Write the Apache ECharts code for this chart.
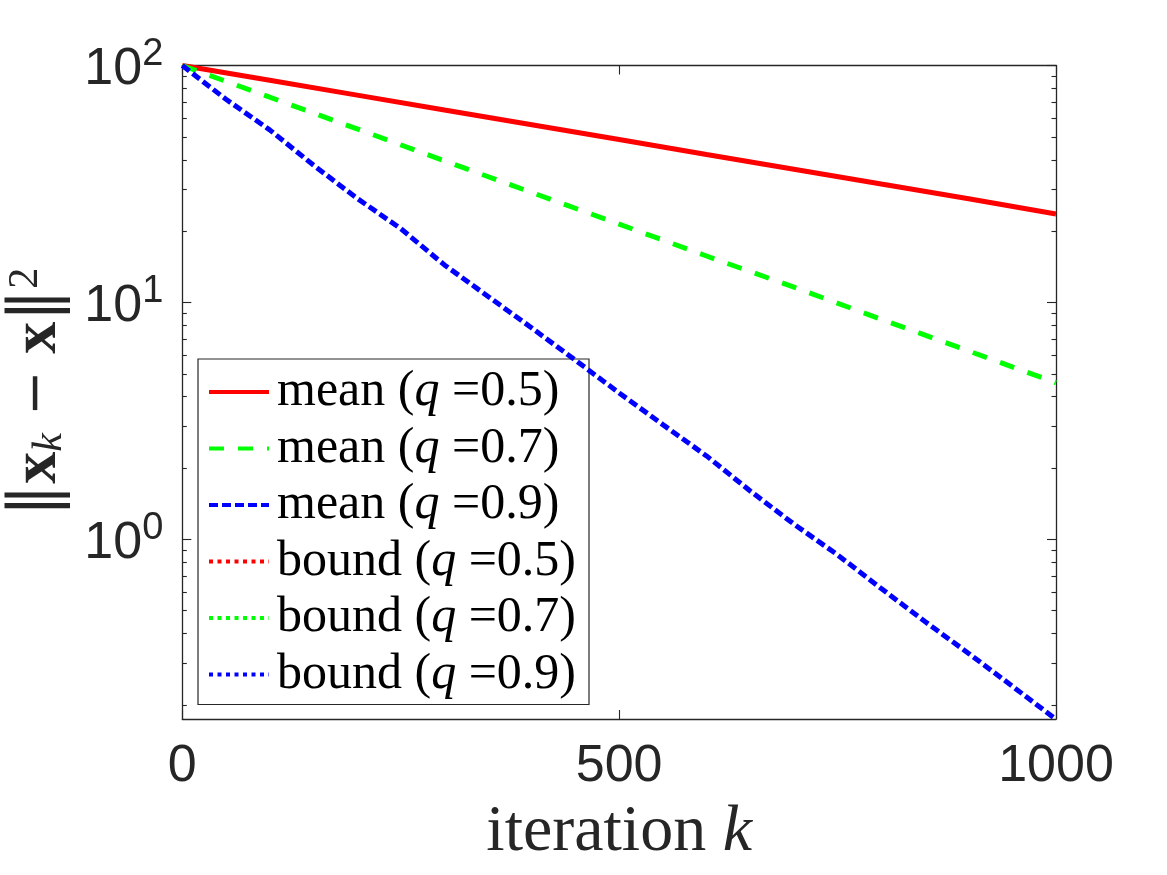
<!DOCTYPE html>
<html><head><meta charset="utf-8">
<script src="https://cdn.jsdelivr.net/npm/echarts@6/dist/echarts.min.js"></script>
<style>html,body{margin:0;padding:0;background:#fff}#c{width:1167px;height:875px}</style>
</head><body><div id="c"></div>
<script>
// ---- data ----
const iterK = [0, 100, 200, 300, 400, 500, 600, 700, 800, 900, 1000];
const meanQ05 = [100, 86.6, 75.0, 64.9, 56.2, 48.7, 42.1, 36.5, 31.6, 27.4, 23.6];
const meanQ07 = [100, 73.5, 54.0, 39.6, 29.1, 21.4, 15.7, 11.6, 8.49, 6.24, 4.58];
const iterKBlue = [0, 50, 100, 150, 200, 250, 300, 350, 400, 450, 500, 550, 600, 650, 700, 750, 800, 850, 900, 950, 1000];
const meanQ09 = [100, 72, 53.5, 38, 27.5, 20.5, 14.4, 10.6, 7.8, 5.7, 4.15, 3.05, 2.25, 1.6, 1.16, 0.86, 0.62, 0.45, 0.33, 0.24, 0.174];
const boundQ05 = [];
const boundQ07 = [];
const boundQ09 = [];
const seriesNames = ['mean (q =0.5)', 'mean (q =0.7)', 'mean (q =0.9)', 'bound (q =0.5)', 'bound (q =0.7)', 'bound (q =0.9)'];
const xTicks = [0, 500, 1000];
const yMajorTicks = [1, 10, 100];
const yMinorTicks = [0.2, 0.3, 0.4, 0.5, 0.6, 0.7, 0.8, 0.9, 2, 3, 4, 5, 6, 7, 8, 9, 20, 30, 40, 50, 60, 70, 80, 90];
const yMin = 0.1745, yMax = 100;
const xMin = 0, xMax = 1000;

const pairs = (xs, ys) => xs.map((x, i) => [x, ys[i]]);
const INK = '#262626';
const serif = "'Liberation Serif', 'DejaVu Serif', serif";
const sans = "'Liberation Sans', Arial, sans-serif";

const chart = echarts.init(document.getElementById('c'), null, {renderer: 'canvas'});

function yAxisDef(pos, customTicks, len, showLabel, extra) {
  return Object.assign({
    type: 'log', logBase: 10, min: yMin, max: yMax, position: pos,
    axisLine: {show: true, lineStyle: {color: INK, width: 1.3}},
    axisTick: {show: true, inside: true, length: len, customValues: customTicks, lineStyle: {color: INK, width: 1.1}},
    axisLabel: {show: showLabel},
    splitLine: {show: false}, minorTick: {show: false}
  }, extra || {});
}

const LW = 5;
const option = {
  animation: false,
  backgroundColor: '#fff',
  grid: {left: 182.3, right: 111, top: 65.5, bottom: 156, containLabel: false, outerBoundsMode: 'none'},
  legend: {
    orient: 'vertical', left: 198, top: 359,
    padding: [8, 13, 5, 9],
    itemWidth: 60, itemHeight: 14, itemGap: 6.5,
    icon: 'inherit',
    itemStyle: {opacity: 0, borderWidth: 0},
    lineStyle: {width: 4},
    backgroundColor: '#fff', borderColor: INK, borderWidth: 1.2,
    data: seriesNames,
    formatter: function (name) {
      const p = name.split('q');
      return '{n|' + p[0] + '}{i|q}{n|' + p[1] + '}';
    },
    textStyle: {
      color: '#000', padding: [0, 0, 0, 3], width: 299,
      rich: {
        n: {fontFamily: serif, fontSize: 50, lineHeight: 50, color: '#000'},
        i: {fontFamily: serif, fontSize: 50, lineHeight: 50, fontStyle: 'italic', color: '#000'}
      }
    }
  },
  xAxis: [{
    type: 'value', min: xMin, max: xMax, interval: 500, position: 'bottom',
    axisLine: {show: true, onZero: false, lineStyle: {color: INK, width: 1.3}},
    axisTick: {show: true, inside: true, length: 9, customValues: xTicks, lineStyle: {color: INK, width: 1.1}},
    axisLabel: {show: true, customValues: xTicks, fontSize: 52, fontFamily: sans, color: INK, margin: 22,
      formatter: function (v) { return String(v); }},
    splitLine: {show: false},
    name: '{n|iteration }{i|k}', nameLocation: 'middle', nameGap: 81,
    nameTextStyle: {
      rich: {
        n: {fontFamily: serif, fontSize: 66, color: INK},
        i: {fontFamily: serif, fontSize: 66, fontStyle: 'italic', color: INK}
      }
    }
  }, {
    type: 'value', min: xMin, max: xMax, interval: 500, position: 'top',
    axisLine: {show: true, onZero: false, lineStyle: {color: INK, width: 1.3}},
    axisTick: {show: true, inside: true, length: 9, customValues: xTicks, lineStyle: {color: INK, width: 1.1}},
    axisLabel: {show: false}, splitLine: {show: false}
  }],
  yAxis: [
    yAxisDef('left', yMajorTicks, 9, true, {
      axisLabel: {
        show: true, customValues: yMajorTicks, margin: 19,
        formatter: function (v) { return '{b|10}{s|' + Math.round(Math.log10(v)) + '}'; },
        rich: {
          b: {fontFamily: sans, fontSize: 52, color: INK, lineHeight: 60, verticalAlign: 'bottom'},
          s: {fontFamily: sans, fontSize: 38, color: INK, lineHeight: 60, verticalAlign: 'top'}
        }
      },
      name: '{v|‖}{b|x}{k|k}{m| − }{b|x}{v|‖}{s|2}', nameLocation: 'middle', nameGap: 111,
      nameTextStyle: {
        rich: {
          v: {fontFamily: "'DejaVu Serif', serif", fontSize: 66, color: INK, lineHeight: 66, verticalAlign: 'middle'},
          m: {fontFamily: "'DejaVu Sans', sans-serif", fontSize: 54, color: INK, lineHeight: 66, verticalAlign: 'middle'},
          b: {fontFamily: serif, fontSize: 64, fontWeight: 'bold', color: INK, lineHeight: 66, verticalAlign: 'middle'},
          k: {fontFamily: serif, fontSize: 42, fontStyle: 'italic', color: INK, lineHeight: 66, verticalAlign: 'bottom'},
          s: {fontFamily: serif, fontSize: 42, color: INK, lineHeight: 66, verticalAlign: 'top'}
        }
      }
    }),
    yAxisDef('left', yMinorTicks, 4.5, false, {axisLine: {show: false}}),
    yAxisDef('right', yMajorTicks, 9, false),
    yAxisDef('right', yMinorTicks, 4.5, false, {axisLine: {show: false}})
  ],
  series: [
    {name: seriesNames[0], type: 'line', data: pairs(iterK, meanQ05), showSymbol: false, symbol: 'none',
     lineStyle: {color: '#ff0000', width: LW, type: 'solid'}, itemStyle: {color: '#ff0000'}, z: 2},
    {name: seriesNames[1], type: 'line', data: pairs(iterK, meanQ07), showSymbol: false, symbol: 'none',
     lineStyle: {color: '#00ff00', width: LW, type: [15, 14]}, itemStyle: {color: '#00ff00'}, z: 3},
    {name: seriesNames[2], type: 'line', data: pairs(iterKBlue, meanQ09), showSymbol: false, symbol: 'none',
     lineStyle: {color: '#0000ff', width: LW, type: [9, 4]}, itemStyle: {color: '#0000ff'}, z: 4},
    {name: seriesNames[3], type: 'line', data: boundQ05, showSymbol: false, symbol: 'none',
     lineStyle: {color: '#ff0000', width: LW, type: [4, 4.5]}, itemStyle: {color: '#ff0000'}},
    {name: seriesNames[4], type: 'line', data: boundQ07, showSymbol: false, symbol: 'none',
     lineStyle: {color: '#00ff00', width: LW, type: [4, 4.5]}, itemStyle: {color: '#00ff00'}},
    {name: seriesNames[5], type: 'line', data: boundQ09, showSymbol: false, symbol: 'none',
     lineStyle: {color: '#0000ff', width: LW, type: [4, 4.5]}, itemStyle: {color: '#0000ff'}}
  ]
};
chart.setOption(option);
</script>
</body></html>
